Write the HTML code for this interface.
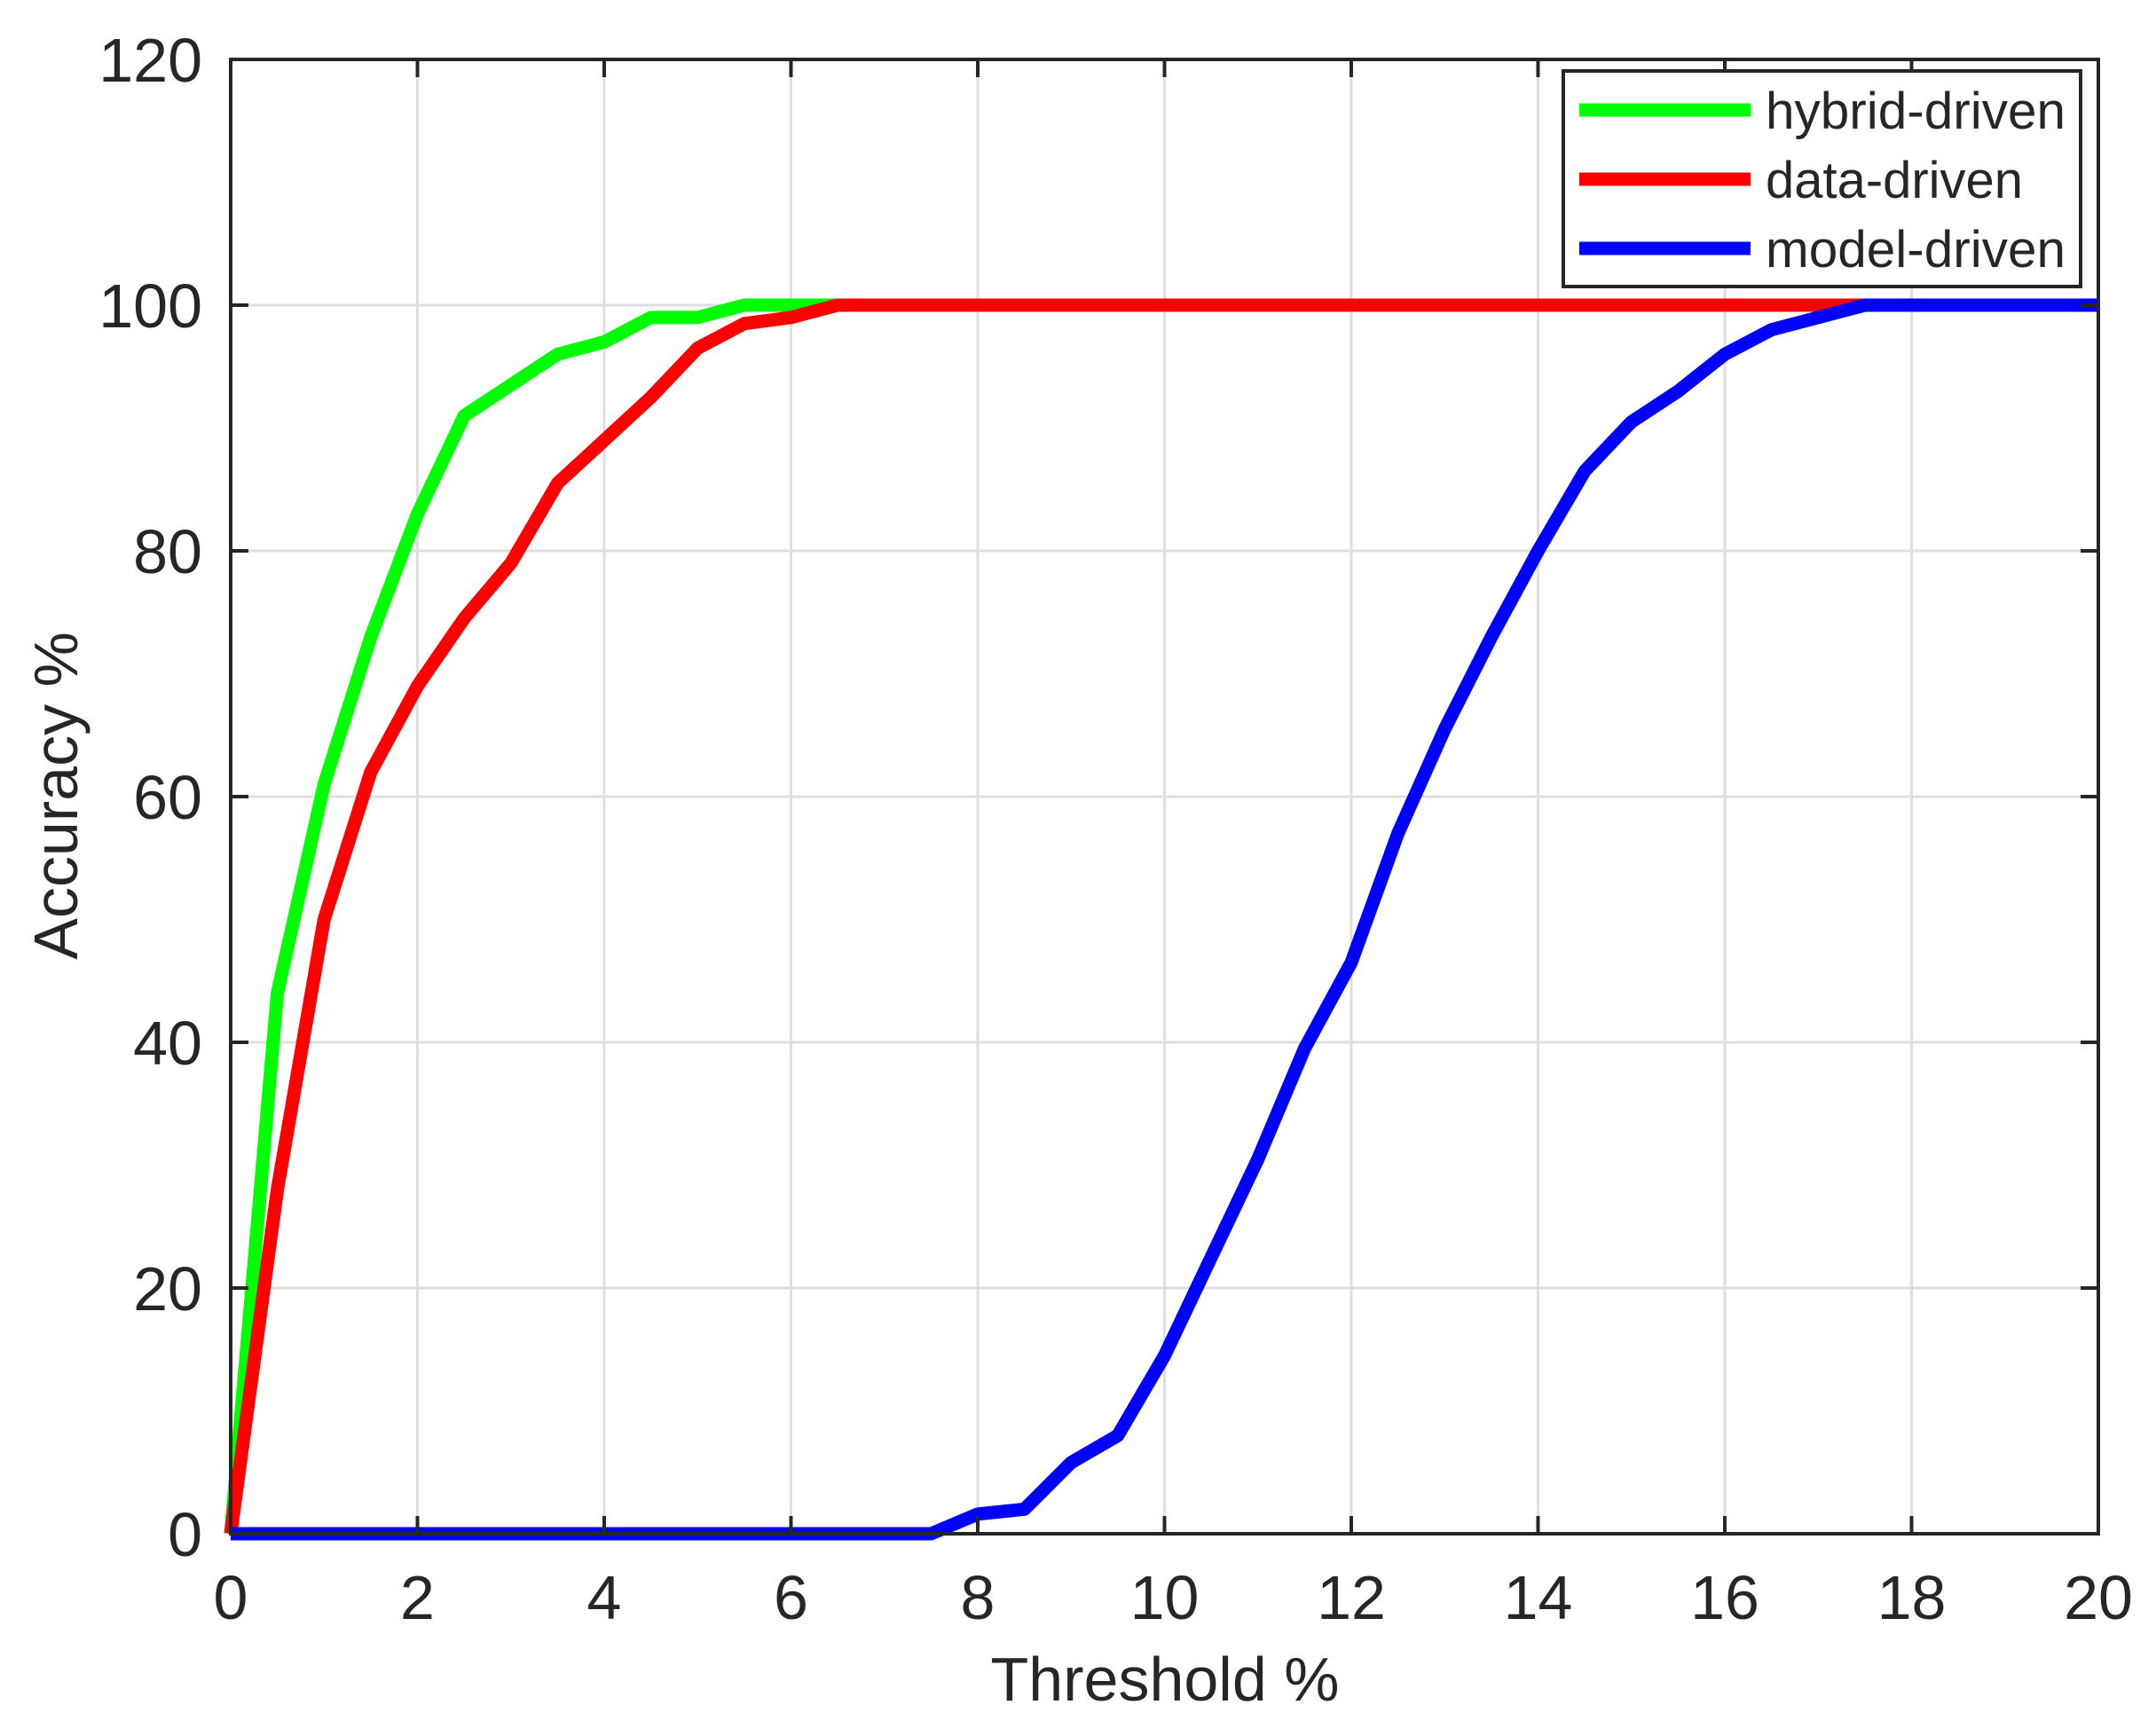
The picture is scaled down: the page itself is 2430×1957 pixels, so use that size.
<!DOCTYPE html>
<html><head><meta charset="utf-8"><style>
html,body{margin:0;padding:0;background:#fff;}
svg{display:block;}
text{font-family:"Liberation Sans",Arial,sans-serif;fill:#262626;}
</style></head><body>
<svg width="2430" height="1957" viewBox="0 0 2430 1957" xmlns="http://www.w3.org/2000/svg">
<rect width="2430" height="1957" fill="#fff"/>
<g id="grid" stroke="#dfdfdf" stroke-width="3"></g>
<g id="series" fill="none" stroke-width="15" stroke-linejoin="round" stroke-linecap="butt"></g>
<g id="axes"></g>
<g id="labels"></g>
<text x="1313" y="1917" font-size="70" text-anchor="middle">Threshold %</text>
<text transform="translate(87,897) rotate(-90)" font-size="70" text-anchor="middle">Accuracy %</text>
<rect x="1762" y="80" width="583" height="243" fill="#fff" stroke="#262626" stroke-width="4"/>
<line x1="1780" y1="124" x2="1973" y2="124" stroke="#00ff00" stroke-width="15"/>
<line x1="1780" y1="202" x2="1973" y2="202" stroke="#ff0000" stroke-width="15"/>
<line x1="1780" y1="280" x2="1973" y2="280" stroke="#0000ff" stroke-width="15"/>
<text x="1990" y="145" font-size="58" textLength="338" lengthAdjust="spacingAndGlyphs">hybrid-driven</text>
<text x="1990" y="223" font-size="58" textLength="290" lengthAdjust="spacingAndGlyphs">data-driven</text>
<text x="1990" y="301" font-size="58" textLength="338" lengthAdjust="spacingAndGlyphs">model-driven</text>
<script>
(function(){
var NS="http://www.w3.org/2000/svg";
var X0=260,XS=105.25,Y0=1729,YS=13.85;
function X(v){return X0+v*XS;} function Y(v){return Y0-v*YS;}
function el(p,t,a,txt){var e=document.createElementNS(NS,t);for(var k in a)e.setAttribute(k,a[k]);if(txt!=null)e.textContent=txt;document.getElementById(p).appendChild(e);return e;}
for(var i=1;i<10;i++) el("grid","line",{x1:X(2*i),y1:Y(120),x2:X(2*i),y2:Y(0)});
for(var j=1;j<6;j++) el("grid","line",{x1:X(0),y1:Y(20*j),x2:X(20),y2:Y(20*j)});
var g=[[0,0],[0.5,44],[1,61],[1.5,73],[2,83],[2.5,91],[3,93.5],[3.5,96],[4,97],[4.5,99],[5,99],[5.5,100],[6,100],[6.5,100]];
var r=[[0,0],[0.5,28],[1,50],[1.5,62],[2,69],[2.5,74.5],[3,79],[3.5,85.5],[4,89],[4.5,92.5],[5,96.5],[5.5,98.5],[6,99],[6.5,100],[20,100]];
var b=[[0,0],[7.5,0],[8,1.6],[8.5,2],[9,5.8],[9.5,8],[10,14.5],[10.5,22.5],[11,30.5],[11.5,39.5],[12,46.5],[12.5,57],[13,65.5],[13.5,73],[14,80],[14.5,86.5],[15,90.5],[15.5,93],[16,96],[16.5,98],[17,99],[17.5,100],[20,100]];
function pl(d,c){el("series","polyline",{points:d.map(function(p){return X(p[0]).toFixed(1)+","+Y(p[1]).toFixed(1);}).join(" "),stroke:c});}
pl(g,"#00ff00");pl(r,"#ff0000");pl(b,"#0000ff");
el("axes","rect",{x:X(0),y:Y(120),width:X(20)-X(0),height:Y(0)-Y(120),fill:"none",stroke:"#262626","stroke-width":4});
for(var i=0;i<=10;i++){var x=X(2*i);
 el("axes","line",{x1:x,y1:Y(0),x2:x,y2:Y(0)-20,stroke:"#262626","stroke-width":4});
 el("axes","line",{x1:x,y1:Y(120),x2:x,y2:Y(120)+20,stroke:"#262626","stroke-width":4});
 el("labels","text",{x:x,y:1825,"font-size":70,"text-anchor":"middle"},String(2*i));}
for(var j=0;j<=6;j++){var y=Y(20*j);
 el("axes","line",{x1:X(0),y1:y,x2:X(0)+20,y2:y,stroke:"#262626","stroke-width":4});
 el("axes","line",{x1:X(20),y1:y,x2:X(20)-20,y2:y,stroke:"#262626","stroke-width":4});
 el("labels","text",{x:228,y:y+25,"font-size":70,"text-anchor":"end"},String(20*j));}
})();
</script>
</svg>
</body></html>
